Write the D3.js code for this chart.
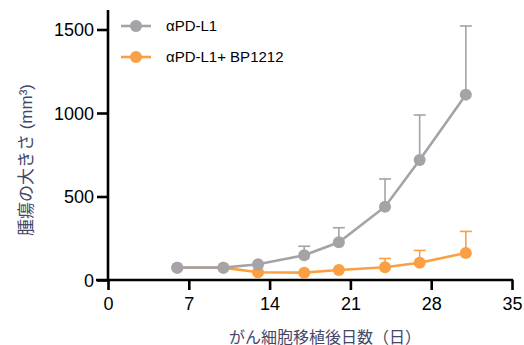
<!DOCTYPE html>
<meta charset="UTF-8">
<style>
body { margin: 0; background: #fff; }
svg text { font-family: Arial, "Liberation Sans", "Noto Sans CJK JP", sans-serif; }
</style>
<body>
<script src="https://cdn.jsdelivr.net/npm/d3@7/dist/d3.min.js"></script>
<script>
// days after implantation
var days = [6, 10, 13, 17, 20, 24, 27, 31];
// mean tumour volume (mm3) and upper error (mean + SD)
var pdl1 = [74, 74, 94, 148, 226, 439, 718, 1110];
var pdl1Err = [74, 74, 94, 202, 313, 605, 988, 1521];
var combo = [74, 74, 46, 44, 60, 76, 103, 162];
var comboErr = [74, 74, 46, 44, 60, 129, 177, 291];
var xTicks = [0, 7, 14, 21, 28, 35];
var yTicks = [0, 500, 1000, 1500];
var seriesNames = ["αPD-L1", "αPD-L1+ BP1212"];
var colors = ["#a3a3a8", "#fba042"];

var width = 524, height = 345;
var svg = d3.select("body").append("svg")
    .attr("width", width).attr("height", height);

var x = d3.scaleLinear().domain([0, 35]).range([108, 512]);
var y = d3.scaleLinear().domain([0, 1500]).range([280, 29.5]);

// axes
var xAxis = svg.append("g").attr("transform", "translate(0,280)")
    .call(d3.axisBottom(x).tickValues(xTicks).tickSize(10).tickSizeOuter(0).tickPadding(6));
var yAxis = svg.append("g").attr("transform", "translate(108,0)")
    .call(d3.axisLeft(y).tickValues(yTicks).tickFormat(d3.format("d")).tickSize(11).tickSizeOuter(0).tickPadding(3));
yAxis.select(".domain").attr("d", "M0,281.5V10");
xAxis.select(".domain").attr("d", "M" + (x(0) - 12) + ",0H" + (x(35) + 1.2));
[xAxis, yAxis].forEach(function(a) {
  a.selectAll(".domain, .tick line").attr("stroke", "#000").attr("stroke-width", 2.6);
  a.selectAll(".tick text").attr("fill", "#000").style("font-size", "18px");
});
xAxis.selectAll(".tick text").attr("dy", "0.75em");
yAxis.selectAll(".tick text").attr("dy", "0.36em");

var series = [
  {vals: combo, err: comboErr, color: colors[1]},
  {vals: pdl1, err: pdl1Err, color: colors[0]}
];

var line = d3.line().x(function(d) { return x(d[0]); }).y(function(d) { return y(d[1]); });

series.forEach(function(s) {
  var g = svg.append("g");
  var pts = days.map(function(d, i) { return [d, s.vals[i], s.err[i]]; });
  // error bars (upper only)
  var eb = pts.filter(function(p) { return y(p[1]) - y(p[2]) > 7; });
  g.selectAll("line.err").data(eb).enter().append("line")
      .attr("x1", function(p) { return x(p[0]); })
      .attr("x2", function(p) { return x(p[0]); })
      .attr("y1", function(p) { return y(p[1]); })
      .attr("y2", function(p) { return y(p[2]); })
      .attr("stroke", s.color).attr("stroke-width", 1.6);
  g.selectAll("line.cap").data(eb).enter().append("line")
      .attr("x1", function(p) { return x(p[0]) - 6; })
      .attr("x2", function(p) { return x(p[0]) + 6; })
      .attr("y1", function(p) { return y(p[2]); })
      .attr("y2", function(p) { return y(p[2]); })
      .attr("stroke", s.color).attr("stroke-width", 1.6);
  g.append("path").datum(pts).attr("d", line)
      .attr("fill", "none").attr("stroke", s.color).attr("stroke-width", 2.6);
  g.selectAll("circle").data(pts).enter().append("circle")
      .attr("cx", function(p) { return x(p[0]); })
      .attr("cy", function(p) { return y(p[1]); })
      .attr("r", 6).attr("fill", s.color);
});

// legend
seriesNames.forEach(function(name, i) {
  var ly = 26 + i * 31;
  var g = svg.append("g");
  g.append("line").attr("x1", 121).attr("x2", 151).attr("y1", ly).attr("y2", ly)
      .attr("stroke", colors[i]).attr("stroke-width", 2.6);
  g.append("circle").attr("cx", 136).attr("cy", ly).attr("r", 6).attr("fill", colors[i]);
  g.append("text").attr("x", 166).attr("y", ly).attr("dy", "0.36em")
      .style("font-size", "15px").attr("fill", "#000").text(name);
});

// axis titles
svg.append("text")
    .attr("transform", "translate(32,160) rotate(-90)")
    .attr("text-anchor", "middle")
    .style("font-size", "17px").attr("fill", "#434768")
    .text("腫瘍の大きさ (mm³)");
svg.append("text")
    .attr("x", 325).attr("y", 343)
    .attr("text-anchor", "middle")
    .style("font-size", "16px").attr("fill", "#434768")
    .text("がん細胞移植後日数（日）");
</script>
</body>
